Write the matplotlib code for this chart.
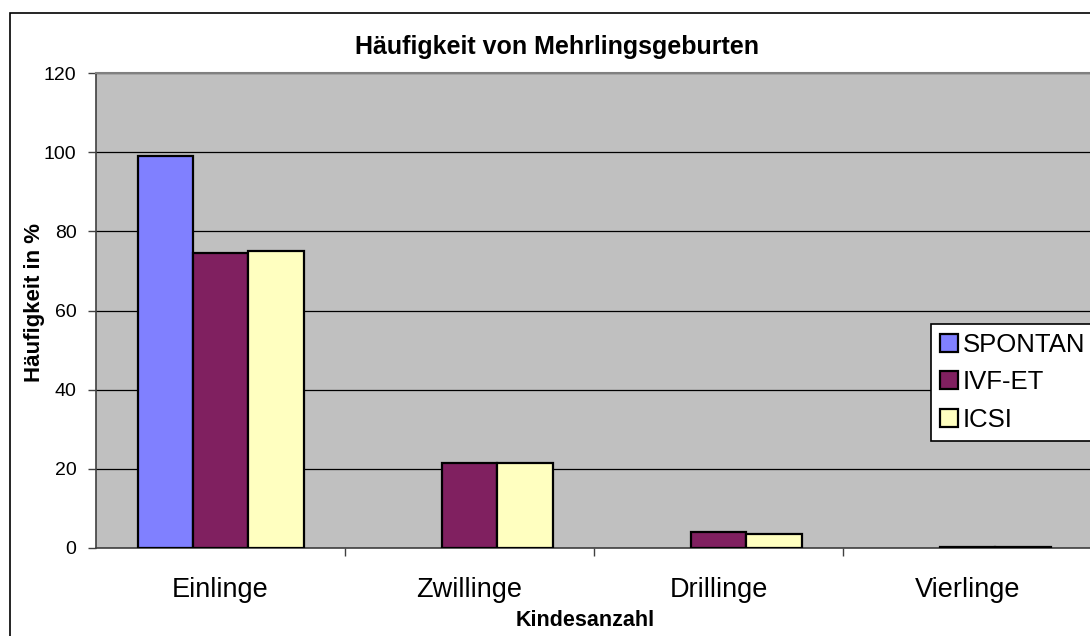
import matplotlib.pyplot as plt
from matplotlib.patches import Rectangle
import numpy as np

plt.rcParams['font.family'] = ['Liberation Sans', 'DejaVu Sans']

categories = ['Einlinge', 'Zwillinge', 'Drillinge', 'Vierlinge']
series = ['SPONTAN', 'IVF-ET', 'ICSI']
spontan = [99.0, 0.0, 0.0, 0.0]
ivf_et = [74.5, 21.4, 4.0, 0.2]
icsi = [75.0, 21.4, 3.5, 0.2]
colors = ['#8080FF', '#802060', '#FFFFC0']

fig = plt.figure(figsize=(10.9, 6.36), dpi=100)
ax = fig.add_axes([96 / 1090, 1 - 548 / 636, 996 / 1090, (548 - 73) / 636])
ax.set_facecolor('#C0C0C0')

x = np.arange(len(categories))
w = 2 / 9
for i, (name, vals) in enumerate(zip(series, [spontan, ivf_et, icsi])):
    vals = np.array(vals)
    keep = vals > 0
    ax.bar(x[keep] + (i - 1) * w, vals[keep], width=w, color=colors[i],
           edgecolor='black', linewidth=1.6, label=name, zorder=3)

ax.set_xlim(-0.5, 3.5)
ax.set_ylim(0, 120)
ax.set_yticks(np.arange(0, 121, 20))
ax.yaxis.grid(True, color='black', linewidth=0.9, zorder=1)
ax.set_axisbelow(True)

ax.set_xticks([0.5, 1.5, 2.5])
ax.set_xticklabels([])
ax.set_xticks(x, minor=True)
ax.set_xticklabels(categories, minor=True, fontsize=19.5)
ax.tick_params(axis='x', which='minor', length=0, pad=21)
ax.tick_params(axis='x', which='major', length=6, color='#404040', width=1)
ax.tick_params(axis='y', length=6, color='#404040', width=1, labelsize=14, pad=8)

for s in ['top', 'right']:
    ax.spines[s].set_color('#808080')
    ax.spines[s].set_linewidth(1.5)
ax.spines['left'].set_color('#404040')
ax.spines['bottom'].set_color('#404040')
ax.spines['left'].set_linewidth(1.2)
ax.spines['bottom'].set_linewidth(1.2)

fig.text(557 / 1090, 1 - 47 / 636, 'Häufigkeit von Mehrlingsgeburten',
         ha='center', va='center', fontsize=18, fontweight='bold')
fig.text(35 / 1090, 1 - 303 / 636, 'Häufigkeit in %', rotation=90,
         ha='center', va='center', fontsize=16, fontweight='bold')
fig.text(585 / 1090, 1 - 620 / 636, 'Kindesanzahl',
         ha='center', va='center', fontsize=15.5, fontweight='bold')

leg = ax.legend(loc='upper left', bbox_to_anchor=(931 / 1090, 1 - 324 / 636),
                bbox_transform=fig.transFigure, fontsize=18.5, frameon=True,
                fancybox=False, edgecolor='black', framealpha=1,
                handlelength=0.7, handleheight=0.7, handletextpad=0.2,
                labelspacing=0.52, borderpad=0.35, borderaxespad=0)
leg.get_frame().set_linewidth(1.2)

fig.patches.append(Rectangle((10 / 1090, -0.05), 1.1, 1 - 13 / 636 + 0.05,
                             transform=fig.transFigure, fill=False,
                             edgecolor='black', linewidth=1.2))

fig.savefig('out.png', dpi=100)
